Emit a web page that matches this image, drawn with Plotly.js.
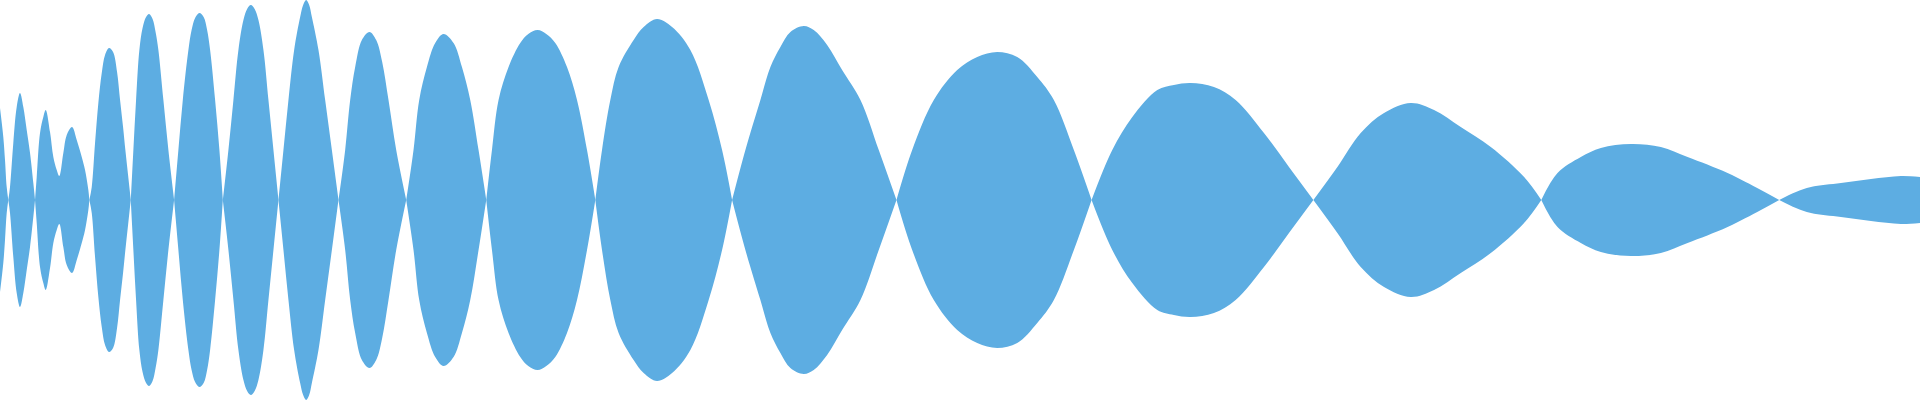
<!DOCTYPE html>
<html>
<head>
<meta charset="utf-8">
<script src="https://cdn.plot.ly/plotly-3.0.1.min.js"></script>
<style>
	html, body { margin: 0; padding: 0; background: #ffffff; }
	#wave { width: 1920px; height: 400px; }
</style>
</head>
<body>
<div id="wave"></div>
<script>
// sample positions along the wave, and the envelope height read off at each one
// (a 0 in envelope is a point where the wave pinches to nothing)
const samplePos = [
	0, 3.3, 5, 6.7, 8.3,
	10, 13.3, 16.7, 20, 23.3, 26.7, 30, 33.3, 35,
	36.7, 40, 43.3, 45.7, 50, 53.3, 56.7, 59.3, 63.3, 66.7, 72, 76.7, 81.7, 85, 88.3, 89.3,
	91.7, 95, 98.3, 101.7, 105, 109, 113, 117, 120, 123, 125.3, 128, 130.7,
	133.3, 136, 139.3, 142.5, 146, 149, 152.5, 155.5, 158.3, 163.3, 168.3, 174,
	178.3, 182.7, 188.3, 191.5, 195, 199.3, 203.5, 207, 210, 215, 219.3, 222.7,
	228.3, 233.3, 238.3, 243.3, 247, 250.7, 254.5, 258.3, 263.3, 268.3, 273.3, 278.3,
	283.3, 288.3, 294, 300, 303, 306, 309, 311.7, 318.3, 325, 331.7, 338.3,
	345, 350, 355, 361.7, 369.3, 376, 382, 388.3, 396, 406,
	413.3, 419, 426.7, 435, 443.3, 453.3, 461.7, 470, 478.3, 486,
	491.7, 498.3, 508.3, 520, 528, 537.3, 546, 555, 566.7, 576.7, 586.7, 595,
	601.7, 610, 618.3, 633.3, 643.3, 656.7, 671.7, 690, 708.3, 721.7, 731.7,
	745, 760, 770, 780, 790, 803.3, 813.3, 826.7, 841.7, 860, 878.3, 896,
	911.7, 933.3, 956.7, 976.7, 996.7, 1016.7, 1036.7, 1053.3, 1073.3, 1091,
	1111.7, 1131.7, 1156.7, 1173.3, 1190, 1213.3, 1235, 1263.3, 1288.3, 1312.7,
	1336.7, 1360, 1383.3, 1410, 1433.3, 1460, 1490, 1523.3, 1540.5,
	1556.7, 1580, 1600, 1630, 1660, 1686.7, 1726.7, 1760, 1778.3,
	1795, 1810, 1840, 1870, 1900, 1919
];
const envelope = [
	92, 63, 40, 13, 0,
	13, 57, 93, 107, 93, 70, 47, 17, 0,
	23, 67, 83, 90, 68, 43, 30, 24, 47, 65, 73, 60, 43, 30, 10, 0,
	13, 57, 97, 127, 145, 152, 148, 128, 100, 73, 50, 25, 0,
	50, 100, 150, 172, 183, 186, 181, 168, 150, 100, 50, 0,
	50, 100, 150, 170, 182, 187, 183, 170, 150, 100, 50, 0,
	50, 100, 150, 180, 191, 195, 191, 180, 150, 100, 50, 0,
	50, 100, 150, 183, 195, 200, 195, 183, 150, 100, 50, 0,
	50, 100, 133, 160, 168, 160, 138, 100, 50, 0,
	50, 100, 133, 157, 166, 157, 133, 100, 50, 0,
	50, 100, 133, 157, 166, 170, 166, 157, 133, 100, 50, 0,
	50, 100, 133, 160, 173, 181, 173, 150, 100, 50, 0,
	50, 100, 133, 153, 168, 174, 170, 155, 130, 100, 50, 0,
	50, 100, 130, 143, 148, 143, 123, 100, 50, 0,
	50, 83, 110, 115, 117, 113, 100, 67, 33, 0,
	33, 67, 87, 97, 90, 73, 53, 23, 0,
	27, 43, 52, 56, 53, 43, 27, 10, 0,
	8, 13, 17, 21, 24, 23
];

const waveColor = '#5DADE2';

// cut the wave into lobes at each pinch point, so the pinches stay sharp
// while the spline rounds off each lobe
const lobes = [];
let cur = { x: [], y: [] };
for (let i = 0; i < samplePos.length; i++) {
	cur.x.push(samplePos[i]);
	cur.y.push(envelope[i]);
	if (envelope[i] === 0 && cur.x.length > 1) {
		lobes.push(cur);
		cur = { x: [samplePos[i]], y: [0] };
	}
}
if (cur.x.length > 1) lobes.push(cur);

const traces = [];
lobes.forEach((lobe) => {
	traces.push({
		x: lobe.x,
		y: lobe.y,
		type: 'scatter',
		mode: 'lines',
		line: { width: 0, color: waveColor, shape: 'spline', smoothing: 1 },
		hoverinfo: 'skip'
	});
	traces.push({
		x: lobe.x,
		y: lobe.y.map(v => -v),
		type: 'scatter',
		mode: 'lines',
		fill: 'tonexty',
		fillcolor: waveColor,
		line: { width: 0, color: waveColor, shape: 'spline', smoothing: 1 },
		hoverinfo: 'skip'
	});
});

const layout = {
	width: 1920,
	height: 400,
	margin: { l: 0, r: 0, t: 0, b: 0, pad: 0 },
	showlegend: false,
	paper_bgcolor: '#ffffff',
	plot_bgcolor: '#ffffff',
	xaxis: { visible: false, range: [0, 1919], fixedrange: true },
	yaxis: { visible: false, range: [-200, 200], fixedrange: true }
};

Plotly.newPlot('wave', traces, layout, { staticPlot: true, displayModeBar: false });
</script>
</body>
</html>
